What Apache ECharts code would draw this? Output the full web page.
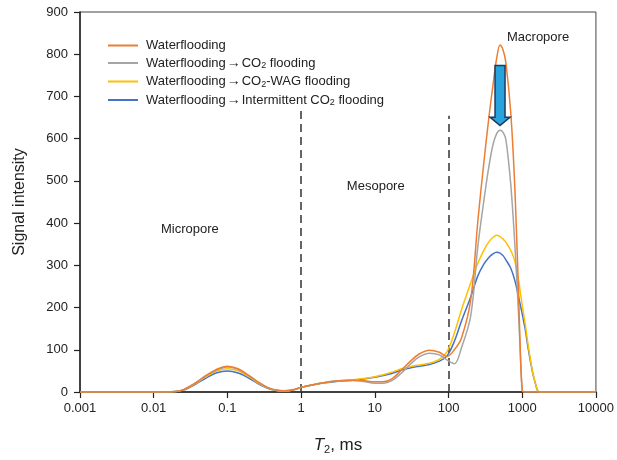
<!DOCTYPE html>
<html>
<head>
<meta charset="utf-8">
<script src="https://cdn.jsdelivr.net/npm/echarts@6/dist/echarts.min.js"></script>
<style>
html,body{margin:0;padding:0;background:#fff;}
#c{width:617px;height:460px;}
</style>
</head>
<body>
<div id="c"></div>
<script>
// T2 values (ms), shared by all series
var T2 = [0.001, 0.01, 0.015, 0.02, 0.025, 0.03, 0.04, 0.05, 0.07, 0.1,
  0.14, 0.2, 0.27, 0.35, 0.45, 0.6, 0.8, 1, 1.5, 2,
  3, 5, 7, 10, 13, 17, 23, 30, 40, 55,
  75, 95, 120, 150, 200, 250, 300, 350, 400, 450,
  500, 550, 600, 700, 800, 900, 950, 1000, 1050, 1100,
  1200, 1300, 1400, 1500, 1600, 1700, 2000, 5000, 10000];

var waterflooding = [0, 0, 0, 1, 5, 12, 26, 38, 53, 61,
  55, 38, 22, 11, 5, 3, 6, 11, 18, 22,
  26, 28, 27, 24, 24, 31, 52, 72, 90, 99,
  94, 84, 100, 128, 218, 405, 540, 645, 725, 790,
  822, 810, 780, 660, 470, 210, 80, 5, 0, 0,
  0, 0, 0, 0, 0, 0, 0, 0, 0];

var co2Flooding = [0, 0, 0, 1, 5, 12, 25, 37, 51, 59,
  53, 37, 21, 10, 4, 2, 5, 11, 18, 22,
  26, 27, 25, 21, 21, 27, 45, 65, 83, 92,
  88, 76, 67, 105, 180, 345, 450, 530, 585, 612,
  620, 615, 598, 490, 340, 170, 75, 5, 0, 0,
  0, 0, 0, 0, 0, 0, 0, 0, 0];

var co2WagFlooding = [0, 0, 0, 1, 5, 11, 24, 35, 49, 55,
  50, 35, 20, 10, 4, 2, 5, 11, 18, 22,
  26, 29, 32, 36, 41, 47, 55, 60, 64, 68,
  77, 95, 140, 195, 258, 305, 335, 355, 366, 371,
  368, 362, 355, 335, 308, 260, 232, 205, 182, 160,
  112, 75, 42, 22, 6, 0, 0, 0, 0];

var intermittentCo2 = [0, 0, 0, 1, 4, 10, 22, 32, 45, 50,
  45, 32, 18, 9, 4, 2, 5, 11, 17, 21,
  25, 28, 31, 35, 39, 44, 52, 57, 61, 65,
  73, 85, 120, 168, 225, 275, 302, 318, 327, 331,
  329, 323, 313, 293, 262, 222, 203, 185, 166, 148,
  105, 70, 42, 22, 5, 0, 0, 0, 0];

var seriesNames = ['Waterflooding', 'Waterflooding→CO2 flooding',
  'Waterflooding→CO2-WAG flooding', 'Waterflooding→Intermittent CO2 flooding'];
var seriesValues = [waterflooding, co2Flooding, co2WagFlooding, intermittentCo2];
var seriesColors = ['#ED7D31', '#A5A5A5', '#FFC000', '#4472C4'];

var xTickLabels = ['0.001', '0.01', '0.1', '1', '10', '100', '1000', '10000'];
var yTicks = [0, 100, 200, 300, 400, 500, 600, 700, 800, 900];

// boundaries between pore classes
var boundaries = [1, 100];

var FONT = '"Liberation Sans", Arial, sans-serif';

function legendLabel(name) {
  // render arrow and CO2 subscript with rich text
  var out = '';
  var segs = name.split('→');
  for (var j = 0; j < segs.length; j++) {
    if (j > 0) out += '{r|→}';
    var parts = segs[j].split('CO2');
    for (var i = 0; i < parts.length; i++) {
      if (parts[i]) out += '{a|' + parts[i] + '}';
      if (i < parts.length - 1) out += '{a|CO}{s|2}';
    }
  }
  return out;
}

var series = seriesNames.map(function (n, i) {
  return {
    name: n,
    type: 'line',
    symbol: 'none',
    smooth: 0.35,
    z: 10 - i,
    lineStyle: { color: seriesColors[i], width: 1.5 },
    itemStyle: { color: seriesColors[i] },
    data: T2.map(function (t, k) { return [t, seriesValues[i][k]]; })
  };
});

series[0].markLine = {
  silent: true,
  symbol: 'none',
  animation: false,
  label: { show: false },
  lineStyle: { color: '#333', width: 1.5, type: [8, 5] },
  data: [
    [{ coord: [boundaries[0], 0] }, { coord: [boundaries[0], 668] }],
    [{ coord: [boundaries[1], 0] }, { coord: [boundaries[1], 654] }]
  ]
};

var chart = echarts.init(document.getElementById('c'), null, { renderer: 'canvas' });
chart.setOption({
  animation: false,
  backgroundColor: '#fff',
  grid: { left: 80, right: 19, top: 12, bottom: 67, show: true, borderColor: '#444', borderWidth: 1, backgroundColor: 'transparent' },
  legend: {
    orient: 'vertical',
    left: 102,
    top: 34,
    itemWidth: 30,
    itemHeight: 14,
    itemGap: 4,
    data: seriesNames,
    formatter: legendLabel,
    itemStyle: { opacity: 0 },
    textStyle: {
      padding: [0, 0, 0, 3],
      rich: {
        a: { fontFamily: FONT, fontSize: 13, color: '#222' },
        r: { fontFamily: FONT, fontSize: 14, fontWeight: 'bold', color: '#222', padding: [0, 1, 0, 1] },
        s: { fontFamily: FONT, fontSize: 9, color: '#222', verticalAlign: 'bottom', padding: [6, 0, 0, 0] }
      }
    }
  },
  xAxis: {
    type: 'log',
    logBase: 10,
    min: 0.001,
    max: 10000,
    interval: 1,
    name: '{i|T}{s|2}{n|, ms}',
    nameLocation: 'middle',
    nameGap: 44,
    nameTextStyle: {
      rich: {
        i: { fontFamily: FONT, fontSize: 17, fontStyle: 'italic', color: '#222' },
        s: { fontFamily: FONT, fontSize: 11, color: '#222', verticalAlign: 'bottom', padding: [8, 0, 0, 0] },
        n: { fontFamily: FONT, fontSize: 17, color: '#222' }
      }
    },
    axisLine: { lineStyle: { color: '#222', width: 1.5 } },
    axisTick: { show: true, inside: false, length: 6, lineStyle: { color: '#222', width: 1.2 } },
    minorTick: { show: false },
    axisLabel: {
      fontFamily: FONT, fontSize: 13, color: '#222', margin: 10,
      formatter: function (v) {
        var k = Math.round(Math.log(v) / Math.LN10) + 3;
        return xTickLabels[k] !== undefined ? xTickLabels[k] : '';
      }
    },
    splitLine: { show: false }
  },
  yAxis: {
    type: 'value',
    min: yTicks[0],
    max: yTicks[yTicks.length - 1],
    interval: yTicks[1] - yTicks[0],
    name: 'Signal intensity',
    nameLocation: 'middle',
    nameGap: 52,
    nameTextStyle: { fontFamily: FONT, fontSize: 16, color: '#222' },
    axisLine: { show: true, lineStyle: { color: '#222', width: 1.5 } },
    axisTick: { show: true, inside: false, length: 6, lineStyle: { color: '#222', width: 1.2 } },
    axisLabel: { fontFamily: FONT, fontSize: 13, color: '#222', margin: 12 },
    splitLine: { show: false }
  },
  series: series
});

// Annotations placed in data coordinates
var annotations = [
  { text: 'Micropore', at: [0.031, 385] },
  { text: 'Mesopore', at: [10.3, 487] },
  { text: 'Macropore', at: [1640, 839] }
];
var graphics = annotations.map(function (a) {
  var p = chart.convertToPixel({ gridIndex: 0 }, a.at);
  return {
    type: 'text', x: p[0], y: p[1], z: 100,
    style: { text: a.text, fontFamily: FONT, fontSize: 13, fill: '#222', align: 'center', verticalAlign: 'middle' }
  };
});

// Downward arrow showing decrease of macropore signal
var arrowTop = chart.convertToPixel({ gridIndex: 0 }, [500, 773]);
var arrowHead = chart.convertToPixel({ gridIndex: 0 }, [500, 651]);
var arrowTip = chart.convertToPixel({ gridIndex: 0 }, [500, 631]);
var cx = arrowTop[0];
graphics.push({
  type: 'polygon', z: 90,
  shape: {
    points: [
      [cx - 5, arrowTop[1]], [cx + 5, arrowTop[1]], [cx + 5, arrowHead[1]],
      [cx + 10, arrowHead[1]], [cx, arrowTip[1]], [cx - 10, arrowHead[1]], [cx - 5, arrowHead[1]]
    ]
  },
  style: { fill: '#29A3DD', stroke: '#1F3A60', lineWidth: 1.5 }
});
chart.setOption({ graphic: graphics });
</script>
</body>
</html>
